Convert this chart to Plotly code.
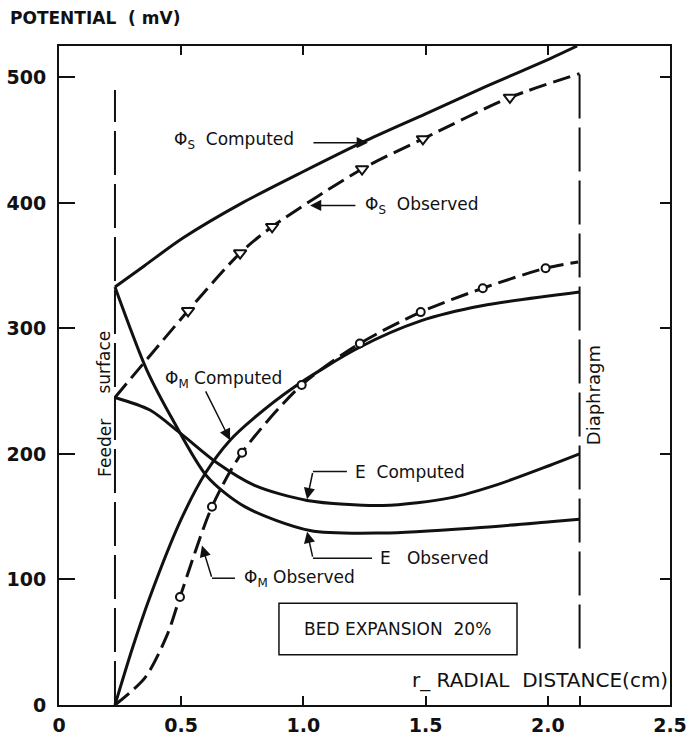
import plotly.graph_objects as go

# ---- data ----
feeder_x = 0.229
diaphragm_x = 2.13
feeder_y = [0, 490]
diaphragm_y = [45, 503]

phi_s_comp_x = [0.229, 0.35, 0.507, 0.75, 1.0, 1.26, 1.5, 1.75, 2.01, 2.12]
phi_s_comp_y = [333, 350, 372, 400, 425, 450, 471, 493, 515, 525]

phi_s_obs_x = [0.229, 0.528, 0.741, 0.872, 1.240, 1.489, 1.845, 2.13]
phi_s_obs_y = [245, 314, 360, 381, 427, 451, 484, 503]
phi_s_mark_x = phi_s_obs_x[1:-1]
phi_s_mark_y = phi_s_obs_y[1:-1]

phi_m_comp_x = [0.229, 0.30, 0.372, 0.5, 0.6, 0.7, 0.8, 0.96, 1.23, 1.48, 1.73, 2.13]
phi_m_comp_y = [0, 45, 86, 148, 185, 211, 229, 253, 285, 306, 318, 329]

phi_m_obs_x = [0.229, 0.353, 0.443, 0.495, 0.626, 0.749, 0.993, 1.231, 1.48, 1.734, 1.991, 2.124]
phi_m_obs_y = [0, 22, 56, 86, 158, 201, 255, 288, 313, 332, 348, 353]
phi_m_mark_x = [0.495, 0.626, 0.749, 0.993, 1.231, 1.48, 1.734, 1.991]
phi_m_mark_y = [86, 158, 201, 255, 288, 313, 332, 348]

e_comp_x = [0.229, 0.372, 0.5, 0.646, 0.8, 1.015, 1.326, 1.6, 1.8, 2.01, 2.13]
e_comp_y = [245, 235, 216, 193, 175, 163, 159, 165, 176, 191, 200]

e_obs_x = [0.229, 0.359, 0.466, 0.606, 0.76, 1.027, 1.326, 1.7, 2.01, 2.13]
e_obs_y = [333, 267, 227, 182, 158, 139, 137, 141, 146, 148]

x_tickvals = [0, 0.5, 1.0, 1.5, 2.0, diaphragm_x, 2.5]
x_ticktext = ["0", "0.5", "1.0", "1.5", "2.0", "", "2.5"]
y_tickvals = [0, 100, 200, 300, 400, 500]
y_ticktext = ["0", "100", "200", "300", "400", "500"]

FONT = "DejaVu Sans"
BLACK = "#111111"

fig = go.Figure()

def line(x, y, dash="solid", width=3):
    fig.add_trace(go.Scatter(x=x, y=y, mode="lines",
                             line=dict(color=BLACK, width=width, dash=dash, shape="spline", smoothing=0.8),
                             hoverinfo="skip"))

# vertical boundaries
fig.add_trace(go.Scatter(x=[feeder_x, feeder_x], y=feeder_y, mode="lines",
                         line=dict(color=BLACK, width=2, dash="44px,9px")))
fig.add_trace(go.Scatter(x=[diaphragm_x, diaphragm_x], y=diaphragm_y, mode="lines",
                         line=dict(color=BLACK, width=2, dash="44px,9px")))

line(phi_s_comp_x, phi_s_comp_y)
line(phi_s_obs_x, phi_s_obs_y, dash="18px,7px")
line(phi_m_comp_x, phi_m_comp_y)
line(phi_m_obs_x, phi_m_obs_y, dash="18px,7px")
line(e_comp_x, e_comp_y)
line(e_obs_x, e_obs_y)

fig.add_trace(go.Scatter(x=phi_s_mark_x, y=phi_s_mark_y, mode="markers",
                         marker=dict(symbol="triangle-down", size=11, color="white",
                                     line=dict(color=BLACK, width=2))))
fig.add_trace(go.Scatter(x=phi_m_mark_x, y=phi_m_mark_y, mode="markers",
                         marker=dict(symbol="circle", size=8, color="white",
                                     line=dict(color=BLACK, width=2))))

# dummy trace for top/right tick axes
fig.add_trace(go.Scatter(x=[0], y=[0], xaxis="x2", yaxis="y2", mode="markers",
                         marker=dict(opacity=0), hoverinfo="skip"))

tf = dict(family=FONT, size=19, color=BLACK, weight="bold")
fig.update_layout(
    width=688, height=739,
    margin=dict(l=59, r=18, t=46, b=34),
    paper_bgcolor="white", plot_bgcolor="white",
    showlegend=False,
    xaxis=dict(range=[0, 2.5], tickvals=x_tickvals, ticktext=x_ticktext, automargin=False,
               ticks="inside", ticklen=9, tickwidth=1.5, tickcolor=BLACK,
               showline=True, linewidth=2, linecolor=BLACK, mirror=True,
               showgrid=False, zeroline=False, tickfont=tf, ticklabelstandoff=2),
    yaxis=dict(range=[0, 525], tickvals=y_tickvals, ticktext=y_ticktext, automargin=False,
               ticks="inside", ticklen=16, tickwidth=1.5, tickcolor=BLACK,
               showline=True, linewidth=2, linecolor=BLACK, mirror=True,
               showgrid=False, zeroline=False, tickfont=tf, ticklabelstandoff=7),
    xaxis2=dict(range=[0, 2.5], overlaying="x", side="top", tickvals=[0.5, 1.0, 1.5, 2.0],
                automargin=False,
                ticks="inside", ticklen=9, tickwidth=1.5, tickcolor=BLACK,
                showticklabels=False, showgrid=False, zeroline=False, showline=False),
    yaxis2=dict(range=[0, 525], overlaying="y", side="right", tickvals=[100, 200, 300, 400, 500],
                automargin=False,
                ticks="inside", ticklen=10, tickwidth=1.5, tickcolor=BLACK,
                showticklabels=False, showgrid=False, zeroline=False, showline=False),
)

af = dict(family=FONT, size=17, color=BLACK)

def label(x, y, text, **kw):
    fig.add_annotation(x=x, y=y, xref="x", yref="y", text=text, showarrow=False,
                       xanchor=kw.pop("xanchor", "left"), yanchor="middle",
                       font=kw.pop("font", af), **kw)

def arrow(x0, y0, x1, y1):
    fig.add_annotation(x=x1, y=y1, ax=x0, ay=y0, xref="x", yref="y", axref="x", ayref="y",
                       text="", showarrow=True, arrowhead=2, arrowsize=1.5, arrowwidth=1.5,
                       arrowcolor=BLACK, standoff=0)

def seg(x0, y0, x1, y1):
    fig.add_shape(type="line", x0=x0, y0=y0, x1=x1, y1=y1, xref="x", yref="y",
                  line=dict(color=BLACK, width=1.5))

label(0.462, 450, "Φ<sub>S</sub>  Computed")
arrow(1.035, 448, 1.264, 448)

label(1.244, 398, "Φ<sub>S</sub>  Observed")
arrow(1.219, 398, 1.027, 398)

label(0.426, 259, "Φ<sub>M</sub> Computed")
arrow(0.597, 251, 0.70, 211)

label(1.203, 186, "E  Computed")
seg(1.178, 186, 1.039, 186)
arrow(1.039, 186, 1.015, 164)

label(1.305, 117, "E   Observed")
seg(1.281, 117, 1.039, 117)
arrow(1.039, 117, 1.015, 138)

label(0.749, 101, "Φ<sub>M</sub> Observed")
seg(0.72, 101, 0.626, 101)
arrow(0.626, 101, 0.585, 127)

# boundary labels
label(0.185, 273, "surface", xanchor="center", textangle=-90)
label(0.185, 205, "Feeder", xanchor="center", textangle=-90)
label(2.19, 247, "Diaphragm", xanchor="center", textangle=-90,
      font=dict(family=FONT, size=18, color=BLACK))

# info box
fig.add_shape(type="rect", x0=0.90, x1=1.874, y0=40, y1=81, xref="x", yref="y",
              line=dict(color=BLACK, width=1.5), fillcolor="white")
label(1.387, 60.5, "BED EXPANSION  20%", xanchor="center", font=dict(family=FONT, size=17, color=BLACK))

# axis titles
label(2.5, 20, "r_ RADIAL  DISTANCE(cm)", xanchor="right", font=dict(family=FONT, size=20, color=BLACK))
fig.add_annotation(xref="paper", yref="paper", x=-51/611, y=1 + 28/659,
                   xanchor="left", yanchor="middle", text="POTENTIAL  ( mV)", showarrow=False,
                   font=dict(family=FONT, size=17, color=BLACK, weight="bold"))

fig.write_html("out.html")
